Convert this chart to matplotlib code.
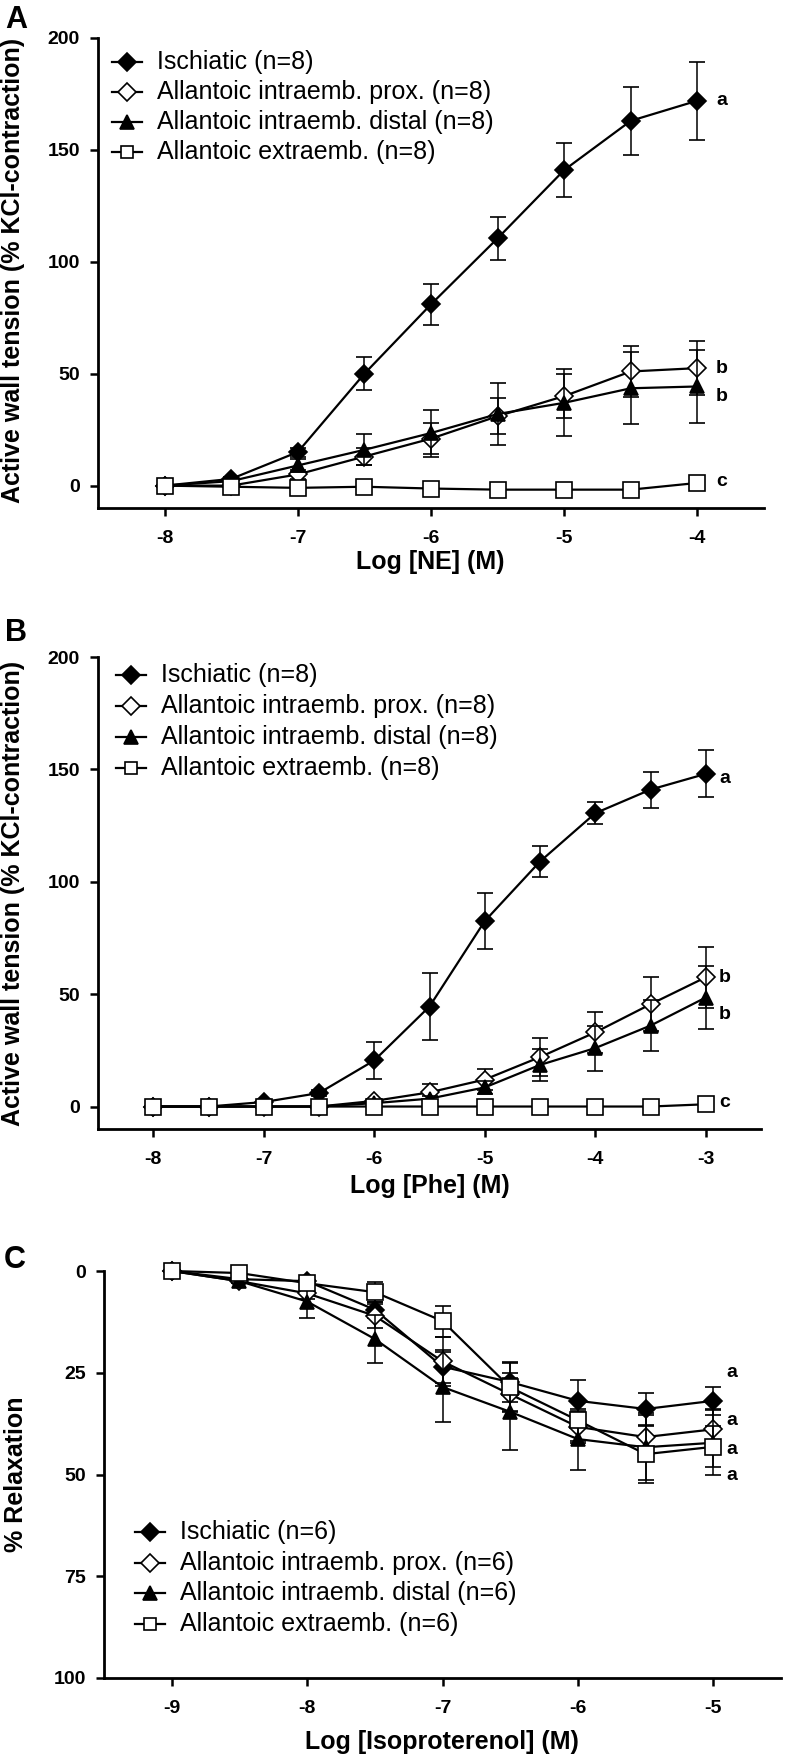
# 3パネルの濃度反応曲線 (NE, Phe, Isoproterenol)
import matplotlib
matplotlib.use('Agg')
import matplotlib.pyplot as plt
from matplotlib.lines import Line2D

plt.rcParams['font.family'] = ['Liberation Sans', 'DejaVu Sans']
plt.rcParams['axes.unicode_minus'] = False

W, H = 786, 1757

names = ['Ischiatic', 'Allantoic intraemb. prox.', 'Allantoic intraemb. distal', 'Allantoic extraemb.']
markers = ['D', 'D', '^', 's']
mfcs = ['black', 'white', 'black', 'white']
msizes = [9.5, 9.5, 10.5, 11]
leg_msizes = [8.7, 8.7, 9.5, 9]

# A: NE
x_ne = [-8, -7.5, -7, -6.5, -6, -5.5, -5, -4.5, -4]
isch_a = [0, 3, 15, 50, 81, 110.5, 141, 163, 172]
isch_a_err = [1, 1, 2, 7.5, 9.3, 9.7, 12.2, 15.3, 17.5]
prox_a = [0, 0, 5, 13, 21, 31, 40, 51, 52.5]
prox_a_err = [0.5, 0.5, 2, 4, 7, 8, 10, 11.5, 12]
dist_a = [0, 2, 9, 16, 23.5, 32, 37, 43.5, 44.3]
dist_a_err = [0.5, 0.5, 3, 7, 10.5, 14, 15, 16, 16.5]
extra_a = [0, -0.5, -1, -0.5, -1.3, -1.8, -1.8, -1.8, 1.2]
extra_a_err = [0.5, 0.5, 0.5, 0.5, 0.5, 0.5, 0.5, 0.5, 0.5]
letters_a = ['a', 'b', 'b', 'c']
letters_a_y = [172, 52.4, 40, 1.7]

# B: Phe
x_phe = [-8, -7.5, -7, -6.5, -6, -5.5, -5, -4.5, -4, -3.5, -3]
isch_b = [0, 0, 2, 6, 20.5, 44.5, 82.5, 109, 130.5, 141, 148]
isch_b_err = [0.5, 0.5, 1, 1.5, 8.3, 15, 12.3, 7, 5, 8, 10.5]
prox_b = [0, 0, 0, 0, 2.5, 6.3, 12, 22, 33, 45.5, 57.5]
prox_b_err = [0.3, 0.3, 0.3, 0.3, 1, 3.5, 4.5, 8.5, 9, 12, 13.5]
dist_b = [0, 0, 0, 0, 1.5, 3.5, 8.5, 18.5, 26, 36, 48.5]
dist_b_err = [0.3, 0.3, 0.3, 0.3, 0.5, 1, 3, 7, 10, 11.5, 14]
extra_b = [0, 0, 0, 0, 0, 0, 0, 0, 0, 0, 1]
extra_b_err = [0.3, 0.3, 0.3, 0.3, 0.3, 0.3, 0.3, 0.3, 0.3, 0.3, 0.3]
letters_b = ['a', 'b', 'b', 'c']
letters_b_y = [146, 57.6, 41, 2]

# C: Isoproterenol
x_iso = [-9, -8.5, -8, -7.5, -7, -6.5, -6, -5.5, -5]
isch_c = [0, 2, 2.5, 9.5, 23.5, 27.3, 31.9, 33.9, 31.9]
isch_c_err = [0.5, 0.5, 1, 2, 4, 5, 5, 4, 3.5]
prox_c = [0, 2.5, 5.5, 11, 22.2, 30.3, 38.3, 40.8, 38.9]
prox_c_err = [0.5, 0.5, 1.5, 3, 6, 4, 4, 6, 5]
dist_c = [0, 2.5, 7.5, 16.7, 28.5, 34.6, 41.3, 43.3, 42.2]
dist_c_err = [0.5, 0.5, 4, 6, 8.5, 9.5, 7.5, 8, 8]
extra_c = [0, 0.5, 3, 5.2, 12.3, 28.6, 36.7, 45, 43.2]
extra_c_err = [0.5, 0.5, 1, 2.5, 3.8, 6, 5, 7, 5]
letters_c = ['a', 'a', 'a', 'a']
letters_c_y = [25, 36.7, 43.8, 50.2]


def fx(x):
    return x / W


def fy(y):
    return 1 - y / H


def px_axes(fig, left, top, right, bottom):
    # ピクセル座標でaxesを作る
    return fig.add_axes([fx(left), fy(bottom), (right - left) / W, (bottom - top) / H])


def style_axes(ax):
    for s in ['top', 'right']:
        ax.spines[s].set_visible(False)
    for s in ['left', 'bottom']:
        ax.spines[s].set_linewidth(2.0)
    ax.tick_params(direction='out', length=6, width=1.8, labelsize=14)
    ax.tick_params(axis='x', pad=10)
    ax.tick_params(axis='y', pad=7)
    for lab in ax.get_xticklabels() + ax.get_yticklabels():
        lab.set_fontweight('bold')


def draw_legend(fig, n, x_line, y_top, dy):
    # 凡例は位置を固定して手で描く
    for i in range(4):
        y = y_top + dy * i
        fig.add_artist(Line2D([fx(x_line), fx(x_line + 30)], [fy(y), fy(y)], color='black', lw=1.6,
                              transform=fig.transFigure))
        fig.add_artist(Line2D([fx(x_line + 15)], [fy(y)], marker=markers[i], mfc=mfcs[i], mec='black',
                              mew=1.2, ms=leg_msizes[i], transform=fig.transFigure))
        fig.text(fx(x_line + 45), fy(y), names[i] + ' (n=%d)' % n, fontsize=18, va='center', ha='left')


def draw_panel(ax, x, ys, errs, letters, letters_y, letter_x):
    for i in range(4):
        c = ax.errorbar(x, ys[i], yerr=errs[i], color='black', lw=1.6,
                        marker=markers[i], mfc=mfcs[i], mec='black', mew=1.2, ms=msizes[i],
                        capsize=6, elinewidth=1.1, capthick=1.1, clip_on=False, zorder=3 + i)
        for art in c.lines[1] + c.lines[2]:
            art.set_clip_on(False)
    for t, yy in zip(letters, letters_y):
        ax.text(letter_x, yy, t, fontsize=14, fontweight='bold', va='center', ha='left')


def main():
    fig = plt.figure(figsize=(W / 100, H / 100), dpi=100)

    # A
    ax = px_axes(fig, 98, 38, 764, 508)
    draw_panel(ax, x_ne, [isch_a, prox_a, dist_a, extra_a],
               [isch_a_err, prox_a_err, dist_a_err, extra_a_err],
               letters_a, letters_a_y, -3.86)
    ax.set_xlim(-8.5, -3.5)
    ax.set_ylim(-10, 200)
    ax.set_xticks([-8, -7, -6, -5, -4])
    ax.set_yticks([0, 50, 100, 150, 200])
    style_axes(ax)
    draw_legend(fig, 8, 112, 62, 30)

    # B
    ax = px_axes(fig, 98, 657, 761, 1129)
    draw_panel(ax, x_phe, [isch_b, prox_b, dist_b, extra_b],
               [isch_b_err, prox_b_err, dist_b_err, extra_b_err],
               letters_b, letters_b_y, -2.88)
    ax.set_xlim(-8.5, -2.5)
    ax.set_ylim(-10, 200)
    ax.set_xticks([-8, -7, -6, -5, -4, -3])
    ax.set_yticks([0, 50, 100, 150, 200])
    style_axes(ax)
    draw_legend(fig, 8, 116, 675, 31)

    # C
    ax = px_axes(fig, 104, 1271, 781, 1678)
    draw_panel(ax, x_iso, [isch_c, prox_c, dist_c, extra_c],
               [isch_c_err, prox_c_err, dist_c_err, extra_c_err],
               letters_c, letters_c_y, -4.9)
    ax.set_xlim(-9.5, -4.5)
    ax.set_ylim(100, 0)
    ax.set_xticks([-9, -8, -7, -6, -5])
    ax.set_yticks([0, 25, 50, 75, 100])
    style_axes(ax)
    draw_legend(fig, 6, 135, 1532, 30.7)

    # ラベル類
    ylab = 'Active wall tension (% KCl-contraction)'
    fig.text(fx(13), fy(270), ylab, rotation=90, ha='center', va='center', fontsize=18, fontweight='bold')
    fig.text(fx(13), fy(893), ylab, rotation=90, ha='center', va='center', fontsize=18, fontweight='bold')
    fig.text(fx(16), fy(1474), '% Relaxation', rotation=90, ha='center', va='center', fontsize=18, fontweight='bold')
    fig.text(fx(430), fy(562), 'Log [NE] (M)', ha='center', va='center', fontsize=18, fontweight='bold')
    fig.text(fx(430), fy(1186), 'Log [Phe] (M)', ha='center', va='center', fontsize=18, fontweight='bold')
    fig.text(fx(442), fy(1742), 'Log [Isoproterenol] (M)', ha='center', va='center', fontsize=18, fontweight='bold')
    fig.text(fx(16), fy(20), 'A', ha='center', va='center', fontsize=22, fontweight='bold')
    fig.text(fx(16), fy(633), 'B', ha='center', va='center', fontsize=22, fontweight='bold')
    fig.text(fx(15), fy(1260), 'C', ha='center', va='center', fontsize=22, fontweight='bold')

    fig.savefig('out.png', dpi=100)


if __name__ == "__main__":
    main()
